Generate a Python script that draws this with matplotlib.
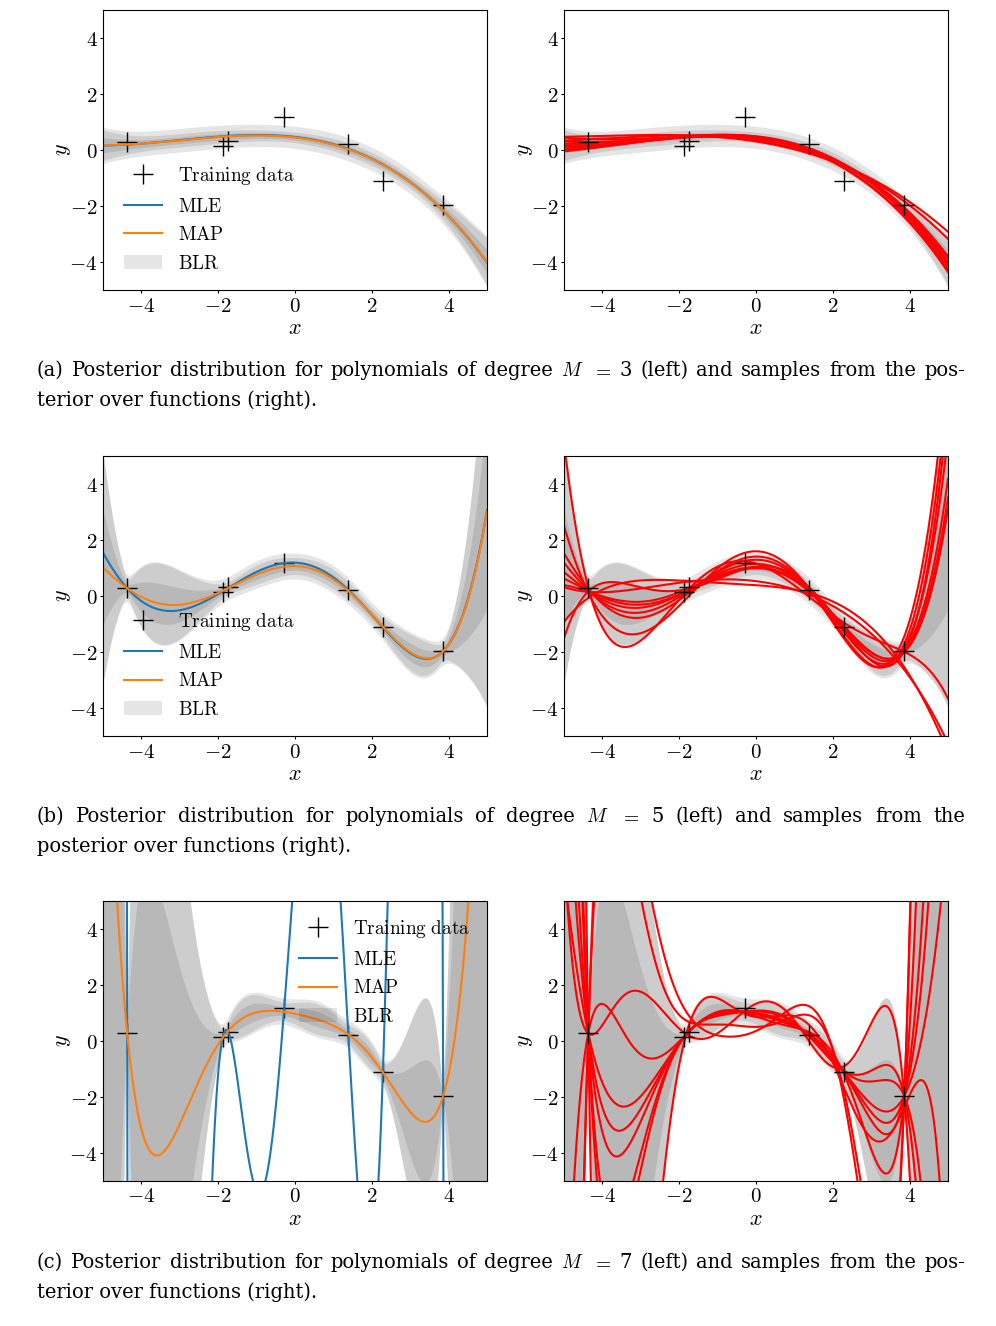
import numpy as np
import matplotlib
matplotlib.use("Agg")
import matplotlib.pyplot as plt
from matplotlib.transforms import IdentityTransform

plt.rcParams["mathtext.fontset"] = "cm"
plt.rcParams["font.family"] = ["DejaVu Sans"]

# ---------------- data ----------------
x_train = np.array([-4.37, -1.88, -1.74, -0.28, 1.39, 2.29, 3.86])
y_train = np.array([0.28, 0.14, 0.32, 1.17, 0.22, -1.12, -1.97])

degrees = [3, 5, 7]
prior_var = 0.25
noise_var = 0.03

mle7_anchor_x = -1.09
mle7_anchor_y = -5.0

tick_values = [-4, -2, 0, 2, 4]
legend_labels = ["Training data", "MLE", "MAP", "BLR"]

nan = np.nan
# posterior samples: values at knot positions (nan = not read)
knots_a = [-5.0, 1.4, 5.0]
samples_a = [
    [0.65, nan, -2.75],
    [0.55, nan, -3.75],
    [0.45, nan, -3.05],
    [0.35, nan, -4.00],
    [0.25, nan, -3.85],
    [0.15, -0.30, -4.45],
    [0.10, nan, -4.15],
    [0.00, nan, -4.30],
    [-0.06, nan, -4.05],
    [-0.14, -0.35, -4.40],
]

knots_b = [-5.0, -3.5, -0.3, 3.2, 4.7]
samples_b = [
    [5.50, -1.83, nan, nan, nan],
    [2.50, -1.60, nan, -2.40, 4.70],
    [1.54, -0.83, nan, nan, 3.80],
    [1.18, -0.65, 1.30, nan, 2.60],
    [0.83, -0.47, nan, -2.30, 1.60],
    [0.60, -0.36, 0.80, nan, 1.20],
    [0.35, -0.24, nan, nan, 0.90],
    [0.24, 0.30, nan, -1.80, -4.60],
    [-1.07, 0.47, nan, nan, -4.80],
    [-1.54, 0.40, nan, nan, nan],
]

knots_c = [-4.7, -4.0, -3.3, -2.6, 3.3, 4.35]
samples_c = [
    [nan, 1.30, 0.0, nan, -4.70, nan],
    [nan, nan, -2.3, nan, -3.30, nan],
    [nan, nan, -3.0, nan, -2.90, nan],
    [nan, nan, -3.7, nan, -2.50, nan],
    [nan, nan, nan, nan, -4.00, -1.50],
    [nan, nan, -6.4, nan, -0.86, nan],
    [nan, nan, -5.5, nan, -1.39, nan],
    [1.85, nan, nan, nan, 1.30, nan],
    [nan, nan, 7.0, 3.5, -9.00, nan],
    [nan, nan, 9.0, 5.5, -10.00, nan],
]
sample_sets = [(knots_a, samples_a), (knots_b, samples_b), (knots_c, samples_c)]

caption_line1 = [
    "(a) Posterior distribution for polynomials of degree $M$ $=$ 3 (left) and samples from the pos-",
    "(b) Posterior distribution for polynomials of degree $M$ $=$ 5 (left) and samples from the",
    "(c) Posterior distribution for polynomials of degree $M$ $=$ 7 (left) and samples from the pos-",
]
caption_line2 = [
    "terior over functions (right).",
    "posterior over functions (right).",
    "terior over functions (right).",
]

# ---------------- model ----------------
xt = np.linspace(-5, 5, 600)


def features(x, M):
    return np.vander(np.atleast_1d(np.asarray(x, float)), M + 1, increasing=True)


def posterior(M):
    P = features(x_train, M)
    A = P.T @ P / noise_var + np.eye(M + 1) / prior_var
    S = np.linalg.inv(A)
    m = S @ P.T @ y_train / noise_var
    return A, S, m


def predictive(M):
    A, S, m = posterior(M)
    F = features(xt, M)
    mean = F @ m
    var = np.einsum("ij,jk,ik->i", F, S, F)
    return mean, np.maximum(var, 0)


def mle(M):
    if M + 1 <= len(x_train):
        P = features(x_train, M)
        th = np.linalg.lstsq(P, y_train, rcond=None)[0]
        return features(xt, M) @ th
    xs = np.append(x_train, mle7_anchor_x)
    ys = np.append(y_train, mle7_anchor_y)
    c = np.polyfit(xs, ys, M)
    return np.polyval(c, xt)


def sample_curve(M, knots, vals, tau=0.15):
    # posterior over parameters, additionally conditioned on the read values
    A, S, m = posterior(M)
    kx = np.asarray(knots, float)
    v = np.asarray(vals, float)
    ok = ~np.isnan(v)
    K = features(kx[ok], M)
    Pm = A + K.T @ K / tau ** 2
    th = np.linalg.solve(Pm, A @ m + K.T @ v[ok] / tau ** 2)
    return features(xt, M) @ th


# ---------------- figure ----------------
W, H = 996, 1326
fig = plt.figure(figsize=(W / 100, H / 100), dpi=100)

row_y0 = [0.7813, 0.4449, 0.1094]
ax_h = 0.2112
ax_w = 0.3855
col_x0 = [0.1034, 0.5663]
tick_fs = 15
label_fs = 16
legend_fs = 13.8


def style(ax):
    ax.set_xlim(-5, 5)
    ax.set_ylim(-5, 5)
    ax.set_xticks(tick_values)
    ax.set_yticks(tick_values)
    ax.set_xticklabels([f"${v}$" for v in tick_values], fontsize=tick_fs)
    ax.set_yticklabels([f"${v}$" for v in tick_values], fontsize=tick_fs)
    ax.tick_params(length=2.5, pad=1.5)
    ax.set_xlabel("$x$", fontsize=label_fs, labelpad=2)
    ax.set_ylabel("$y$", fontsize=label_fs, labelpad=-3)


def bands(ax, mean, var, label=None):
    s = np.sqrt(var)
    c1, c2, c3 = s, 2 * s, 2 * np.sqrt(var + noise_var)
    h = ax.fill_between(xt, mean - c1, mean + c1, color="k", alpha=0.1, lw=0, label=label)
    ax.fill_between(xt, mean - c2, mean + c2, color="k", alpha=0.1, lw=0)
    ax.fill_between(xt, mean - c3, mean + c3, color="k", alpha=0.1, lw=0)
    return h


for r, M in enumerate(degrees):
    mean, var = predictive(M)
    m_mle = mle(M)

    # left: posterior
    ax = fig.add_axes([col_x0[0], row_y0[r], ax_w, ax_h])
    h0, = ax.plot(x_train, y_train, "k+", ms=15, mew=1.0)
    h1, = ax.plot(xt, m_mle, color="C0", lw=1.5)
    h2, = ax.plot(xt, mean, color="C1", lw=1.5)
    h3 = bands(ax, mean, var)
    style(ax)
    labels = [r"$\mathrm{" + s.replace(" ", r"\ ") + "}$" for s in legend_labels]
    if M == 7:
        ax.legend([h0, h1, h2, h3], labels, loc="upper right", frameon=False, fontsize=legend_fs)
    else:
        ax.legend([h0, h1, h2, h3], labels, loc="lower left", bbox_to_anchor=(0.01, 0.0),
                  frameon=False, fontsize=legend_fs)

    # right: samples
    ax = fig.add_axes([col_x0[1], row_y0[r], ax_w, ax_h])
    bands(ax, mean, var)
    kn, smp = sample_sets[r]
    for row in smp:
        ax.plot(xt, sample_curve(M, kn, row), color="red", lw=1.5)
    ax.plot(x_train, y_train, "k+", ms=15, mew=1.0, zorder=5)
    style(ax)

# ---------------- captions ----------------
cap_family = "DejaVu Serif"
x_left, x_right = 37, 965
line2_width_px = 282          # measured width of "terior over functions (right)."
baselines = [(376, 406), (822, 852), (1268, 1298)]
renderer = fig.canvas.get_renderer()

probe = fig.text(0, 0, caption_line2[0], fontsize=15, family=cap_family, transform=IdentityTransform())
cap_fs = 15 * line2_width_px / probe.get_window_extent(renderer).width
probe.remove()


def justified(line, y_px):
    words = line.split(" ")
    ts = [fig.text(0, 0, w, fontsize=cap_fs, family=cap_family, transform=IdentityTransform(),
                   ha="left", va="baseline") for w in words]
    widths = [t.get_window_extent(renderer).width for t in ts]
    gap = (x_right - x_left - sum(widths)) / (len(words) - 1)
    x = x_left
    for t, w in zip(ts, widths):
        t.set_position((x, H - y_px))
        x += w + gap


for r in range(3):
    justified(caption_line1[r], baselines[r][0])
    fig.text(x_left, H - baselines[r][1], caption_line2[r], fontsize=cap_fs, family=cap_family,
             transform=IdentityTransform(), ha="left", va="baseline")

fig.savefig("out.png", dpi=100)
